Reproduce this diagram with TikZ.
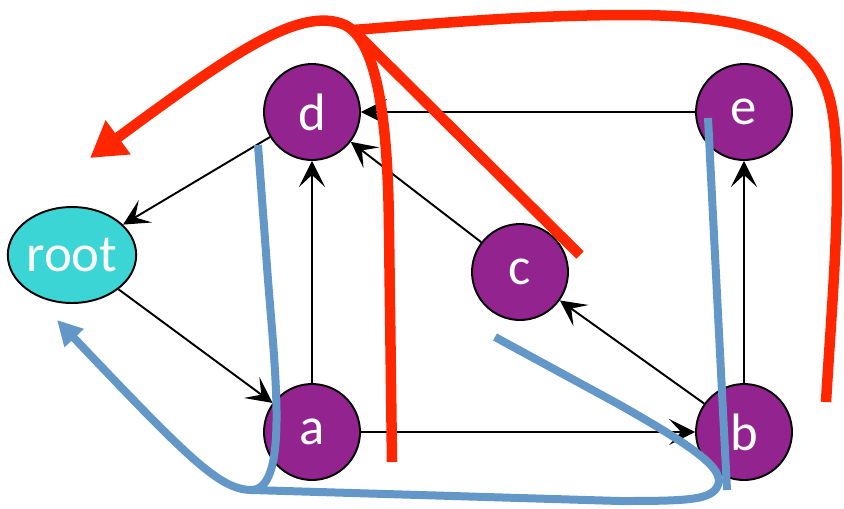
\documentclass[tikz,border=0pt]{standalone}
\usepackage{fontspec}
\setmainfont{Carlito}
\usetikzlibrary{shapes.geometric,arrows.meta}
\definecolor{vpurple}{RGB}{146,35,143}
\definecolor{rcyan}{RGB}{59,213,213}
\definecolor{pred}{RGB}{255,38,0}
\definecolor{pblue}{RGB}{98,151,200}

\begin{document}
\begin{tikzpicture}[
                x=0.02cm, y=-0.02cm,
                every node/.style={font=\fontsize{30}{34}\selectfont, text=white},
                vertex/.style={circle, draw, line width=1.1pt, fill=vpurple, minimum size=1.92cm, inner sep=0pt},
                rootnode/.style={ellipse, draw, line width=1.1pt, fill=rcyan, minimum width=2.56cm, minimum height=1.92cm, inner sep=0pt},
                edge/.style={line width=1.1pt, -{Stealth[length=0.52cm,width=0.52cm,inset=0.24cm]}},
                redstroke/.style={draw=pred, line width=0.21cm},
                bluestroke/.style={draw=pblue, line width=0.16cm}
            ]
                \useasboundingbox (0,0) rectangle (844,508);
                % graph
                \node [rootnode] (root) at (72,255) {root};
                \node [vertex] (d) at (312,112) {d};
                \node [vertex] (e) at (744,112) {e};
                \node [vertex] (c) at (520,272) {c};
                \node [vertex] (a) at (312,432) {a};
                \node [vertex] (b) at (744,432) {b};
                \draw [edge] (d) -- (root);
                \draw [edge] (root) -- (a);
                \draw [edge] (a) -- (d);
                \draw [edge] (a) -- (b);
                \draw [edge] (b) -- (c);
                \draw [edge] (c) -- (d);
                \draw [edge] (e) -- (d);
                \draw [edge] (b) -- (e);
                % red strokes
                \draw [redstroke] (826,402) .. controls (832,300) and (845,160) .. (830,100)
                    .. controls (815,40) and (760,15) .. (630,15)
                    .. controls (520,15) and (420,25) .. (353,30) -- (580,255);
                \draw [redstroke, -{Triangle[length=0.7cm,width=0.8cm]}] (392,462) -- (389,230)
                    .. controls (388,110) and (375,40) .. (345,25)
                    .. controls (300,5) and (230,55) .. (90,158);
                % blue strokes
                \draw [bluestroke, -{Triangle[length=0.5cm,width=0.5cm]}] (258,145) -- (268,280)
                    .. controls (276,380) and (288,488) .. (252,490)
                    .. controls (220,490) and (190,460) .. (57,320);
                \draw [bluestroke] (495,337) -- (620,405)
                    .. controls (690,445) and (725,468) .. (718,485)
                    .. controls (712,500) and (690,501) .. (620,501) -- (252,490);
                \draw [bluestroke] (708,118) -- (727,490);
            \end{tikzpicture}
\end{document}
